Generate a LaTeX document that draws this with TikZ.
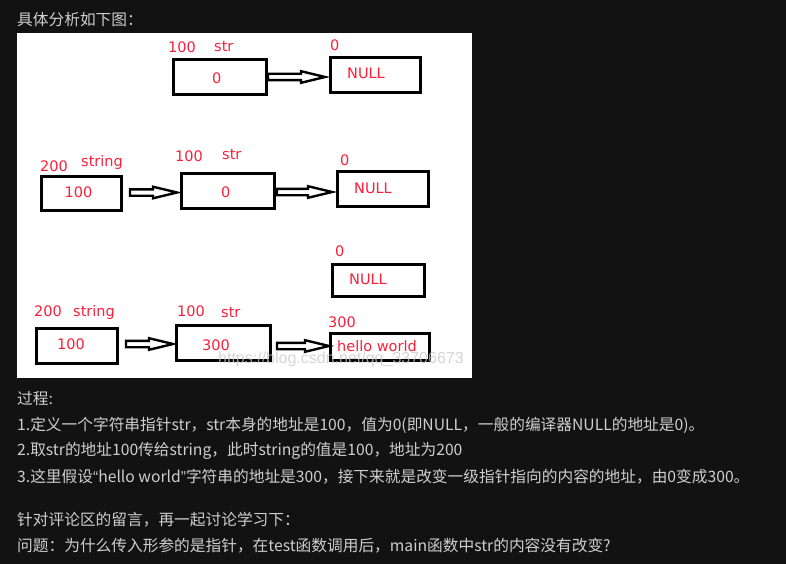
\documentclass[tikz,border=0pt]{standalone}
\usepackage{fontspec}
\setmainfont{DejaVu Sans}
\newfontfamily\cjk{Noto Sans CJK SC}
\newfontfamily\wmfont{Liberation Sans}
\usetikzlibrary{calc}
\definecolor{pagebg}{RGB}{18,18,18}
\definecolor{bodytext}{RGB}{206,206,206}
\definecolor{memred}{RGB}{250,32,58}
\tikzset{
  cell/.style={draw=black,line width=3pt,inner sep=0pt},
  memtext/.style={text=memred,font=\fontsize{14.5}{16}\selectfont,anchor=base west,inner sep=0pt},
  bodyline/.style={text=bodytext,font=\cjk\fontsize{15.7}{18}\selectfont,anchor=west,inner sep=0pt},
  hollow/.style={draw=black,line width=2.4pt,line join=miter,
    to path={let \p1=(\tikztostart),\p2=(\tikztotarget) in
      (\x1,\y1+3.2pt) -- (\x2-24pt,\y1+3.2pt) -- (\x2-24pt,\y1+5.8pt) -- (\x2,\y1)
      -- (\x2-24pt,\y1-5.8pt) -- (\x2-24pt,\y1-3.2pt) -- (\x1,\y1-3.2pt) -- cycle}}
}
\begin{document}
\begin{tikzpicture}[x=1pt,y=-1pt]
  \fill[pagebg] (0,0) rectangle (786,564);
  \useasboundingbox (0,0) rectangle (786,564);
  \fill[white] (17,33) rectangle (472,378);

  \node[bodyline] (title) at (17,20) {具体分析如下图：};

  % first state
  \node[cell,minimum width=93pt,minimum height=35pt] (s1) at (220,77) {};
  \node[cell,minimum width=90pt,minimum height=35pt] (n1) at (375.5,75) {};
  \node[memtext] (s1addr) at (168,53) {100};
  \node[memtext] (s1name) at (214,52) {str};
  \node[memtext] (n1addr) at (330,51) {0};
  \node[memtext] (s1val) at (212,84) {0};
  \node[memtext] (n1val) at (347,79) {NULL};
  \draw[hollow] (s1.east) to ([xshift=-4pt]n1.west);

  % second state
  \node[cell,minimum width=80pt,minimum height=34pt] (g2) at (81.5,193.5) {};
  \node[cell,minimum width=93pt,minimum height=35pt] (s2) at (228,191) {};
  \node[cell,minimum width=91pt,minimum height=35pt] (n2) at (383,189) {};
  \node[memtext] (g2addr) at (40,171.5) {200};
  \node[memtext] (g2name) at (81,167) {string};
  \node[memtext] (s2addr) at (175,162) {100};
  \node[memtext] (s2name) at (222,160) {str};
  \node[memtext] (n2addr) at (340,165) {0};
  \node[memtext] (g2val) at (64.5,197.5) {100};
  \node[memtext] (s2val) at (221,197.5) {0};
  \node[memtext] (n2val) at (354,193.5) {NULL};
  \draw[hollow] ([xshift=7pt,yshift=1pt]g2.east) to ([xshift=-3pt]s2.west);
  \draw[hollow] ([xshift=1pt,yshift=-1pt]s2.east) to ([xshift=-4pt]n2.west);

  % third state
  \node[cell,minimum width=92pt,minimum height=32pt] (n3) at (378.5,280.5) {};
  \node[cell,minimum width=81pt,minimum height=35pt] (g3) at (77,346) {};
  \node[cell,minimum width=94pt,minimum height=35pt] (s3) at (223.5,343) {};
  \node[cell,minimum width=99pt,minimum height=27pt] (h3) at (380,347) {};
  \node[memtext] (n3addr) at (335,256.5) {0};
  \node[memtext] (n3val) at (349,284.5) {NULL};
  \node[memtext] (g3addr) at (34,316) {200};
  \node[memtext] (g3name) at (73,316.5) {string};
  \node[memtext] (s3addr) at (177,316) {100};
  \node[memtext] (s3name) at (221,317) {str};
  \node[memtext] (h3addr) at (328,327.5) {300};
  \node[memtext] (g3val) at (57,349) {100};
  \node[memtext] (s3val) at (202,350) {300};
  \node[memtext] (h3val) at (337,351.5) {hello world};
  \draw[hollow] ([xshift=7pt,yshift=2pt]g3.east) to ([xshift=-2pt]s3.west);
  \draw[hollow] ([xshift=5pt,yshift=-3pt]s3.east) to (h3.west);

  \node[anchor=base west,inner sep=0pt,text=black!22,opacity=0.75,font=\wmfont\fontsize{16}{18}\selectfont]
    (wm) at (218,363) {https://blog.csdn.net/qq\_33706673};

  % explanation
  \node[bodyline] (step0) at (17,399) {过程:};
  \node[bodyline] (step1) at (17,425) {1.定义一个字符串指针str，str本身的地址是100，值为0(即NULL，一般的编译器NULL的地址是0)。};
  \node[bodyline] (step2) at (17,450.5) {2.取str的地址100传给string，此时string的值是100，地址为200};
  \node[bodyline] (step3) at (17,477) {3.这里假设{\wmfont “}hello world{\wmfont ”}字符串的地址是300，接下来就是改变一级指针指向的内容的地址，由0变成300。};
  \node[bodyline] (note) at (17,520) {针对评论区的留言，再一起讨论学习下：};
  \node[bodyline] (question) at (17,545.5) {问题：为什么传入形参的是指针，在test函数调用后，main函数中str的内容没有改变?};
\end{tikzpicture}
\end{document}
